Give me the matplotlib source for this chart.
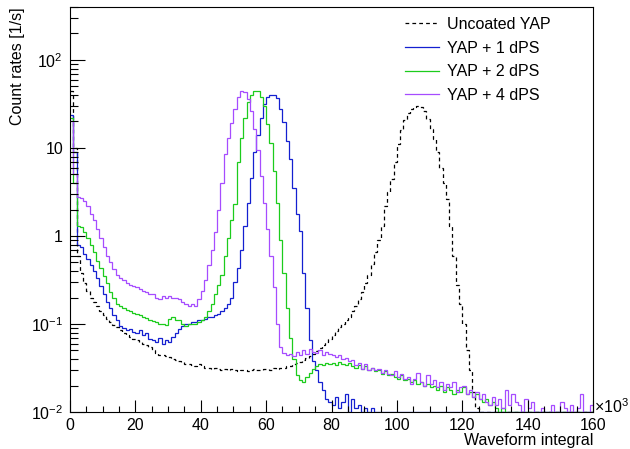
#!/usr/bin/env python3
# -*- coding: utf-8 -*-
"""
Waveform integral spectra of YAP crystals with and without dPS coating.
"""

import numpy as np
import matplotlib
matplotlib.use('Agg')
import matplotlib.pyplot as plt
from matplotlib.ticker import FixedLocator, MultipleLocator, NullFormatter

# --> histogram bins: 1 bin = 1 x10^3, from 0 to 160
x_edges = np.arange(0, 161, 1)

# --> count rates [1/s] per bin
uncoated = [
    45, 10, 0.6, 0.38, 0.29, 0.24, 0.2, 0.18, 0.16, 0.14,
    0.125, 0.115, 0.105, 0.098, 0.092, 0.085, 0.08, 0.075, 0.071, 0.068,
    0.066, 0.063, 0.06, 0.057, 0.055, 0.05, 0.047, 0.045, 0.044, 0.043,
    0.042, 0.04, 0.039, 0.038, 0.037, 0.035, 0.035, 0.034, 0.033, 0.035,
    0.033, 0.032, 0.032, 0.031, 0.032, 0.031, 0.03, 0.031, 0.03, 0.031,
    0.03, 0.029, 0.03, 0.03, 0.029, 0.03, 0.031, 0.03, 0.03, 0.031,
    0.031, 0.03, 0.032, 0.031, 0.032, 0.032, 0.033, 0.033, 0.035, 0.036,
    0.037, 0.039, 0.041, 0.043, 0.046, 0.049, 0.053, 0.057, 0.062, 0.068,
    0.075, 0.083, 0.092, 0.1, 0.11, 0.12, 0.14, 0.16, 0.19, 0.23,
    0.29, 0.36, 0.48, 0.65, 0.9, 1.3, 2.2, 3.2, 4.5, 7,
    11, 16, 21, 25, 28, 29.5, 30, 29.5, 26.5, 21.5,
    16.5, 12.5, 9, 6, 4, 2.6, 1.3, 0.6, 0.28, 0.17,
    0.1, 0.05, 0.03, 0.017, 0.011, 0.005, 0, 0, 0, 0,
    0, 0, 0, 0, 0, 0, 0, 0, 0, 0,
    0, 0, 0, 0, 0, 0, 0, 0, 0, 0,
    0, 0, 0, 0, 0, 0, 0, 0, 0, 0,
]

yap_1dps = [
    24, 9, 0.8, 0.75, 0.62, 0.55, 0.47, 0.4, 0.33, 0.27,
    0.22, 0.18, 0.15, 0.125, 0.11, 0.095, 0.09, 0.085, 0.088, 0.082,
    0.08, 0.085, 0.075, 0.078, 0.068, 0.065, 0.063, 0.07, 0.06, 0.065,
    0.062, 0.072, 0.078, 0.088, 0.095, 0.1, 0.1, 0.105, 0.105, 0.11,
    0.11, 0.115, 0.12, 0.12, 0.125, 0.13, 0.14, 0.15, 0.17, 0.2,
    0.3, 0.43, 0.7, 1.3, 2.4, 4.6, 9, 14, 22, 32,
    38, 40, 40, 37, 28, 19.5, 12, 7.5, 3.5, 1.8,
    1.15, 0.38, 0.15, 0.065, 0.038, 0.03, 0.022, 0.018, 0.014, 0.013,
    0.012, 0.015, 0.011, 0.013, 0.016, 0.01, 0.014, 0.011, 0.012, 0.006,
    0.011, 0.005, 0.011, 0.005, 0, 0, 0, 0, 0, 0,
    0, 0, 0, 0, 0, 0, 0, 0, 0, 0,
    0, 0, 0, 0, 0, 0, 0, 0, 0, 0,
    0, 0, 0, 0, 0, 0, 0, 0, 0, 0,
    0, 0, 0, 0, 0, 0, 0, 0, 0, 0,
    0, 0, 0, 0, 0, 0, 0, 0, 0, 0,
    0, 0, 0, 0, 0, 0, 0, 0, 0, 0,
]

yap_2dps = [
    22, 4, 1.3, 1.25, 1.1, 0.95, 0.8, 0.65, 0.52, 0.43,
    0.35, 0.29, 0.23, 0.2, 0.17, 0.16, 0.15, 0.145, 0.14, 0.135,
    0.13, 0.125, 0.12, 0.118, 0.112, 0.108, 0.105, 0.1, 0.1, 0.098,
    0.115, 0.12, 0.112, 0.11, 0.1, 0.095, 0.1, 0.1, 0.1, 0.105,
    0.11, 0.12, 0.14, 0.17, 0.22, 0.28, 0.36, 0.6, 0.95, 1.5,
    2.3, 7, 13, 22, 33, 40, 45, 44, 38, 30,
    18.5, 11.5, 5.5, 2.4, 0.9, 0.38, 0.15, 0.07, 0.04, 0.026,
    0.023, 0.022, 0.025, 0.028, 0.031, 0.033, 0.035, 0.034, 0.036, 0.035,
    0.036, 0.034, 0.037, 0.035, 0.034, 0.036, 0.033, 0.032, 0.034, 0.031,
    0.033, 0.03, 0.032, 0.029, 0.03, 0.027, 0.029, 0.026, 0.027, 0.025,
    0.024, 0.026, 0.023, 0.024, 0.022, 0.023, 0.021, 0.022, 0.02, 0.021,
    0.019, 0.02, 0.018, 0.02, 0.017, 0.019, 0.018, 0.016, 0.018, 0.017,
    0.019, 0.016, 0.017, 0.015, 0.016, 0.014, 0.013, 0.014, 0.012, 0.013,
    0.011, 0.01, 0.011, 0.008, 0.01, 0.005, 0, 0, 0, 0,
    0, 0, 0, 0, 0, 0, 0, 0, 0, 0,
    0, 0, 0, 0, 0, 0, 0, 0, 0, 0,
]

yap_4dps = [
    20, 5, 2.8, 2.7, 2.5, 2.2, 1.8, 1.5, 1.2, 0.95,
    0.75, 0.6, 0.5, 0.42, 0.36, 0.33, 0.32, 0.29, 0.28, 0.27,
    0.26, 0.25, 0.24, 0.23, 0.22, 0.22, 0.2, 0.19, 0.21, 0.2,
    0.21, 0.2, 0.195, 0.19, 0.18, 0.17, 0.16, 0.17, 0.16, 0.19,
    0.24, 0.32, 0.47, 0.7, 1.1, 2.0, 4.0, 8.5, 13, 19,
    27.5, 37.5, 44, 43.5, 36, 26, 16.5, 9.5, 4.8, 2.4,
    1.2, 0.6, 0.26, 0.1, 0.055, 0.047, 0.044, 0.046, 0.043, 0.048,
    0.045, 0.05, 0.046, 0.052, 0.048, 0.047, 0.05, 0.044, 0.048, 0.046,
    0.045, 0.042, 0.044, 0.04, 0.041, 0.038, 0.039, 0.034, 0.036, 0.031,
    0.035, 0.03, 0.032, 0.03, 0.031, 0.028, 0.03, 0.027, 0.026, 0.029,
    0.025, 0.027, 0.024, 0.025, 0.021, 0.024, 0.028, 0.022, 0.02, 0.026,
    0.021, 0.023, 0.019, 0.022, 0.018, 0.021, 0.019, 0.022, 0.017, 0.019,
    0.02, 0.016, 0.018, 0.015, 0.017, 0.014, 0.016, 0.013, 0.012, 0.015,
    0.012, 0.014, 0.011, 0.018, 0.012, 0.016, 0.013, 0.012, 0.01, 0.014,
    0.011, 0.013, 0.01, 0.009, 0.011, 0.01, 0.008, 0.012, 0.01, 0.009,
    0.013, 0.011, 0.01, 0.012, 0.009, 0.011, 0.016, 0.01, 0.009, 0.012,
]

labels = ['Uncoated YAP', 'YAP + 1 dPS', 'YAP + 2 dPS', 'YAP + 4 dPS']
x_ticks = [0, 20, 40, 60, 80, 100, 120, 140, 160]
y_ticks = [1e-2, 1e-1, 1, 10, 100]
y_tick_labels = ['$10^{-2}$', '$10^{-1}$', '1', '10', '$10^{2}$']

plt.rcParams['font.family'] = ['Liberation Sans', 'DejaVu Sans']
plt.rcParams['mathtext.fontset'] = 'custom'
plt.rcParams['mathtext.rm'] = 'Liberation Sans'
plt.rcParams['mathtext.it'] = 'Liberation Sans:italic'


def plot_spectra(output_plot):
    """Draw the four histograms in ROOT-like style and save the figure."""
    fig = plt.figure(figsize=(6.3, 4.49), dpi=100)
    ax = fig.add_axes([70 / 630, 37 / 449, 523 / 630, 405 / 449])

    y_min, y_max = 0.01, 400
    series = [
        (uncoated, 'black', (0, (3, 2.5))),
        (yap_1dps, '#1420d0', '-'),
        (yap_2dps, '#1ccc1c', '-'),
        (yap_4dps, '#a64cff', '-'),
    ]
    # --> ROOT draws empty / underflow bins on the bottom of the frame
    for (vals, color, ls), lab in zip(series, labels):
        v = np.clip(np.asarray(vals, dtype=float), y_min, None)
        ax.stairs(v, x_edges, baseline=None, color=color, linestyle=ls,
                  linewidth=0.9, label=lab)

    ax.set_yscale('log')
    ax.set_xlim(0, 160)
    ax.set_ylim(y_min, y_max)

    # --> ticks
    ax.xaxis.set_major_locator(FixedLocator(x_ticks))
    ax.xaxis.set_minor_locator(MultipleLocator(5))
    ax.set_xticklabels([str(t) for t in x_ticks])
    ax.yaxis.set_major_locator(FixedLocator(y_ticks))
    minors = [m * 10.0 ** e for e in range(-2, 3) for m in range(2, 10)]
    ax.yaxis.set_minor_locator(FixedLocator(minors))
    ax.yaxis.set_minor_formatter(NullFormatter())
    ax.set_yticklabels(y_tick_labels)

    ax.tick_params(axis='both', which='both', direction='in', top=False,
                   right=False, width=0.8, labelsize=11.5)
    ax.tick_params(axis='x', which='major', length=8.8, pad=4)
    ax.tick_params(axis='x', which='minor', length=4.4)
    ax.tick_params(axis='y', which='major', length=11, pad=5)
    ax.tick_params(axis='y', which='minor', length=5.5)
    for sp in ax.spines.values():
        sp.set_linewidth(0.8)

    # --> axis titles, ROOT puts them at the end of the axis
    fig.text(593 / 630, 1 - 440 / 449, 'Waveform integral', ha='right',
             va='center', fontsize=11.5)
    fig.text(18 / 630, 1 - 7 / 449, 'Count rates [1/s]', rotation=90,
             ha='center', va='top', fontsize=11.5)
    fig.text(594 / 630, 1 - 407 / 449, r'$\times$10$^{3}$', ha='left',
             va='center', fontsize=11.5)

    ax.legend(loc='upper left', bbox_to_anchor=(405 / 630, 1 - 17 / 449),
              bbox_transform=fig.transFigure, frameon=False, fontsize=11.5,
              handlelength=2.1, handletextpad=0.5, labelspacing=0.54,
              borderpad=0, borderaxespad=0)

    fig.savefig(output_plot, dpi=100)


def main():
    plot_spectra('out.png')


if __name__ == "__main__":
    main()
